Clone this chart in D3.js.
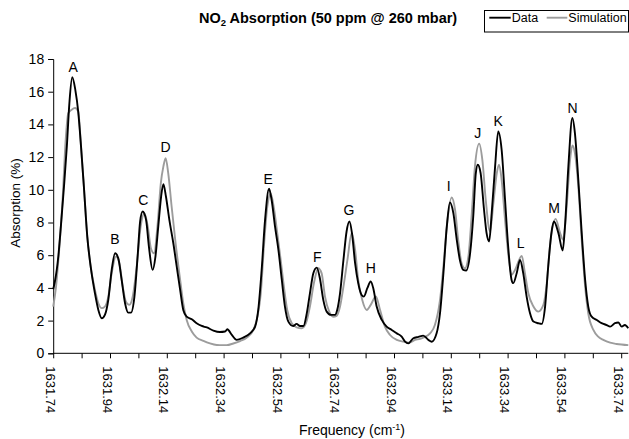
<!DOCTYPE html>
<html>
<head>
<meta charset="utf-8">
<script src="https://cdn.jsdelivr.net/npm/d3@7"></script>
<style>
  body { margin: 0; background: #fff; }
  svg { display: block; font-family: "Liberation Sans", Arial, sans-serif; }
</style>
</head>
<body>
<svg id="chart" width="629" height="439"></svg>
<script>
/* NO2 absorption spectrum: measured data vs simulation */

var dataFreq = [
  1631.740, 1631.746, 1631.758, 1631.767, 1631.778, 1631.788, 1631.797, 1631.807, 1631.818, 1631.828,
  1631.838, 1631.848, 1631.860, 1631.872, 1631.887, 1631.899, 1631.911, 1631.922, 1631.934, 1631.946,
  1631.958, 1631.969, 1631.981, 1631.993, 1632.004, 1632.014, 1632.026, 1632.038, 1632.046, 1632.055,
  1632.067, 1632.077, 1632.090, 1632.100, 1632.110, 1632.120, 1632.128, 1632.137, 1632.149, 1632.163,
  1632.175, 1632.187, 1632.198, 1632.210, 1632.228, 1632.245, 1632.263, 1632.281, 1632.304, 1632.327,
  1632.345, 1632.353, 1632.369, 1632.386, 1632.409, 1632.433, 1632.451, 1632.462, 1632.474, 1632.486,
  1632.500, 1632.509, 1632.521, 1632.533, 1632.545, 1632.556, 1632.568, 1632.585, 1632.597, 1632.609,
  1632.621, 1632.633, 1632.644, 1632.656, 1632.668, 1632.679, 1632.691, 1632.703, 1632.718, 1632.732,
  1632.740, 1632.750, 1632.762, 1632.773, 1632.783, 1632.792, 1632.803, 1632.814, 1632.826, 1632.834,
  1632.846, 1632.858, 1632.867, 1632.879, 1632.897, 1632.914, 1632.932, 1632.950, 1632.967, 1632.979,
  1632.990, 1633.008, 1633.026, 1633.043, 1633.061, 1633.073, 1633.090, 1633.102, 1633.114, 1633.126,
  1633.137, 1633.149, 1633.161, 1633.172, 1633.184, 1633.194, 1633.208, 1633.219, 1633.228, 1633.235,
  1633.245, 1633.257, 1633.266, 1633.275, 1633.284, 1633.296, 1633.307, 1633.319, 1633.331, 1633.342,
  1633.354, 1633.360, 1633.372, 1633.384, 1633.395, 1633.407, 1633.419, 1633.431, 1633.448, 1633.460,
  1633.472, 1633.483, 1633.495, 1633.503, 1633.519, 1633.534, 1633.542, 1633.554, 1633.568, 1633.577,
  1633.589, 1633.601, 1633.613, 1633.624, 1633.636, 1633.654, 1633.671, 1633.689, 1633.701, 1633.718,
  1633.730, 1633.742, 1633.753, 1633.765
];
var dataAbs = [
  3.92, 4.39, 5.92, 7.76, 10.2, 12.65, 15.3, 16.88, 16.1, 14.8,
  12.65, 10.2, 7.14, 5.3, 3.67, 2.65, 2.14, 2.35, 3.27, 5.1,
  6.12, 5.82, 4.49, 3.06, 2.49, 2.49, 3.47, 6.12, 8.06, 8.67,
  8.16, 6.53, 5.1, 5.92, 7.76, 9.59, 10.35, 9.59, 8.16, 6.73,
  5.3, 3.88, 2.65, 2.24, 2.08, 1.84, 1.67, 1.58, 1.39, 1.3,
  1.33, 1.47, 1.12, 0.82, 0.96, 1.22, 1.63, 2.65, 5.1, 8.16,
  10.06, 9.39, 7.76, 6.33, 4.49, 2.86, 1.94, 1.67, 1.8, 1.67,
  1.67, 2.45, 3.67, 4.9, 5.24, 4.59, 3.27, 2.55, 2.35, 2.35,
  2.65, 3.67, 5.71, 7.45, 8.06, 7.35, 5.51, 4.29, 3.57, 3.47,
  3.98, 4.39, 3.98, 2.86, 2.04, 1.63, 1.43, 1.22, 1.02, 0.71,
  0.61, 0.92, 1.0, 1.08, 0.82, 0.71, 1.22, 2.45, 4.9, 7.76,
  9.22, 8.57, 6.94, 5.71, 5.1, 5.06, 6.12, 8.37, 11.0, 11.53,
  11.02, 8.78, 7.35, 6.84, 8.57, 11.43, 13.57, 12.45, 9.39, 6.53,
  4.49, 4.29, 4.9, 5.71, 4.9, 3.47, 2.45, 1.94, 1.84, 1.8,
  2.86, 5.31, 7.45, 8.06, 7.35, 6.29, 7.76, 11.43, 14.39, 13.47,
  10.61, 7.35, 4.49, 2.86, 2.24, 2.04, 1.84, 1.73, 1.63, 1.84,
  1.88, 1.63, 1.73, 1.53
];

var simFreq = [
  1631.740, 1631.750, 1631.761, 1631.773, 1631.784, 1631.793, 1631.805, 1631.817, 1631.828, 1631.838,
  1631.848, 1631.860, 1631.872, 1631.887, 1631.899, 1631.911, 1631.922, 1631.934, 1631.946, 1631.961,
  1631.973, 1631.985, 1631.996, 1632.008, 1632.020, 1632.034, 1632.048, 1632.061, 1632.073, 1632.084,
  1632.095, 1632.107, 1632.119, 1632.128, 1632.136, 1632.145, 1632.157, 1632.171, 1632.187, 1632.198,
  1632.210, 1632.228, 1632.245, 1632.269, 1632.292, 1632.316, 1632.327, 1632.351, 1632.374, 1632.398,
  1632.421, 1632.445, 1632.459, 1632.471, 1632.482, 1632.494, 1632.506, 1632.518, 1632.529, 1632.541,
  1632.553, 1632.564, 1632.580, 1632.597, 1632.615, 1632.630, 1632.644, 1632.658, 1632.673, 1632.685,
  1632.697, 1632.712, 1632.726, 1632.738, 1632.750, 1632.762, 1632.776, 1632.791, 1632.803, 1632.814,
  1632.828, 1632.844, 1632.858, 1632.876, 1632.891, 1632.908, 1632.926, 1632.950, 1632.973, 1632.994,
  1633.014, 1633.032, 1633.043, 1633.067, 1633.084, 1633.102, 1633.114, 1633.126, 1633.143, 1633.155,
  1633.166, 1633.178, 1633.190, 1633.202, 1633.214, 1633.225, 1633.240, 1633.251, 1633.263, 1633.278,
  1633.290, 1633.302, 1633.310, 1633.319, 1633.331, 1633.342, 1633.354, 1633.366, 1633.390, 1633.401,
  1633.413, 1633.431, 1633.448, 1633.466, 1633.478, 1633.489, 1633.509, 1633.525, 1633.536, 1633.548,
  1633.560, 1633.568, 1633.577, 1633.589, 1633.601, 1633.613, 1633.624, 1633.642, 1633.659, 1633.677,
  1633.701, 1633.724, 1633.765
];
var simAbs = [
  2.86, 4.08, 6.33, 9.39, 13.06, 14.69, 14.9, 15.0, 14.8, 12.65,
  10.2, 7.14, 5.3, 3.88, 3.06, 2.76, 2.86, 3.47, 4.9, 5.92,
  5.51, 4.08, 3.16, 2.96, 3.47, 5.31, 7.76, 8.57, 7.76, 6.43,
  6.12, 7.76, 10.41, 11.43, 11.94, 11.02, 8.98, 6.73, 4.49, 3.06,
  2.04, 1.33, 0.96, 0.76, 0.61, 0.51, 0.5, 0.5, 0.6, 0.75,
  0.95, 1.43, 2.24, 3.67, 6.53, 8.98, 9.76, 8.78, 7.35, 5.71,
  3.98, 2.65, 1.84, 1.59, 1.53, 1.84, 2.86, 4.29, 5.2, 4.9,
  3.47, 2.55, 2.24, 2.29, 2.86, 4.08, 5.71, 7.35, 6.33, 4.49,
  3.27, 2.65, 2.96, 3.47, 2.65, 1.63, 1.12, 0.82, 0.71, 0.65,
  0.82, 0.88, 0.96, 1.22, 1.73, 3.27, 5.31, 7.76, 9.53, 8.78,
  6.94, 5.51, 5.2, 5.92, 8.57, 11.43, 12.82, 11.84, 9.39, 7.45,
  9.18, 11.02, 11.53, 10.61, 8.16, 6.12, 4.8, 5.1, 5.96, 4.9,
  3.67, 2.86, 2.55, 2.96, 4.29, 6.53, 8.22, 7.35, 6.94, 8.98,
  11.84, 12.71, 12.24, 10.2, 6.94, 4.08, 2.45, 1.43, 1.02, 0.82,
  0.65, 0.57, 0.5
];

var peakNames = ['A', 'B', 'C', 'D', 'E', 'F', 'G', 'H', 'I', 'J', 'K', 'L', 'M', 'N'];
var peakFreq  = [1631.810, 1631.957, 1632.057, 1632.136, 1632.497, 1632.670, 1632.781,
                 1632.858, 1633.133, 1633.235, 1633.307, 1633.386, 1633.504, 1633.569];
var peakAbs   = [17.53, 6.99, 9.38, 12.60, 10.64, 5.91, 8.76,
                 5.20, 10.25, 13.49, 14.21, 6.73, 8.87, 14.99];

var yTicks = [0, 2, 4, 6, 8, 10, 12, 14, 16, 18];
var xTickLabels = ['1631.74', '1631.94', '1632.14', '1632.34', '1632.54', '1632.74',
                   '1632.94', '1633.14', '1633.34', '1633.54', '1633.74'];

var svg = d3.select('#chart');

var x = d3.scaleLinear().domain([1631.74, 1633.765]).range([53.2, 628.3]);
var y = d3.scaleLinear().domain([0, 18]).range([353.3, 59]);

/* y axis */
var yAxis = svg.append('g')
  .attr('transform', 'translate(' + x(1631.74) + ',0)')
  .call(d3.axisLeft(y).tickValues(yTicks).tickSize(5).tickPadding(4).tickFormat(d3.format('d')));
yAxis.select('.domain').attr('stroke', '#000').attr('stroke-width', 1);
yAxis.selectAll('.tick line').attr('stroke', '#000');
yAxis.selectAll('.tick text')
  .attr('font-size', 14).attr('fill', '#000')
  .attr('font-family', '"Liberation Sans", Arial, sans-serif');

/* x axis: minor ticks every 0.1, labels every 0.2 */
var xTickVals = d3.range(21).map(function (i) { return +(1631.74 + i * 0.1).toFixed(2); });
var xAxis = svg.append('g')
  .attr('transform', 'translate(0,' + y(0) + ')')
  .call(d3.axisBottom(x).tickValues(xTickVals).tickSize(5).tickFormat(''));
xAxis.select('.domain').attr('stroke', '#000').attr('stroke-width', 1)
  .attr('d', 'M' + x(1631.74) + ',0H' + x(1633.765));
xAxis.selectAll('.tick line').attr('stroke', '#000');

svg.append('g').selectAll('text')
  .data(xTickLabels)
  .enter().append('text')
  .attr('transform', function (d) { return 'translate(' + x(+d) + ',' + (y(0) + 13) + ') rotate(90)'; })
  .attr('dy', 7.3)
  .attr('text-anchor', 'start')
  .attr('font-size', 13)
  .text(function (d) { return d; });

/* curves */
var line = d3.line()
  .x(function (d) { return x(d[0]); })
  .y(function (d) { return y(d[1]); })
  .curve(d3.curveMonotoneX);

svg.append('path')
  .datum(d3.zip(simFreq, simAbs))
  .attr('d', line)
  .attr('fill', 'none')
  .attr('stroke', '#9c9c9c')
  .attr('stroke-width', 1.9)
  .attr('stroke-linejoin', 'round');

svg.append('path')
  .datum(d3.zip(dataFreq, dataAbs))
  .attr('d', line)
  .attr('fill', 'none')
  .attr('stroke', '#000')
  .attr('stroke-width', 1.9)
  .attr('stroke-linejoin', 'round');

/* peak letters */
svg.append('g').selectAll('text')
  .data(d3.zip(peakNames, peakFreq, peakAbs))
  .enter().append('text')
  .attr('x', function (d) { return x(d[1]); })
  .attr('y', function (d) { return y(d[2]); })
  .attr('dy', '0.36em')
  .attr('text-anchor', 'middle')
  .attr('font-size', 14)
  .text(function (d) { return d[0]; });

/* axis titles */
svg.append('text')
  .attr('transform', 'translate(15,203) rotate(-90)')
  .attr('dy', '0.35em')
  .attr('text-anchor', 'middle')
  .attr('font-size', 13.5)
  .text('Absorption (%)');

var xt = svg.append('text')
  .attr('x', 352)
  .attr('y', 434.5)
  .attr('text-anchor', 'middle')
  .attr('font-size', 14);
xt.append('tspan').text('Frequency (cm');
xt.append('tspan').attr('dy', -5).attr('font-size', 9).text('-1');
xt.append('tspan').attr('dy', 5).text(')');

/* title */
var tt = svg.append('text')
  .attr('x', 199)
  .attr('y', 22.5)
  .attr('font-size', 14.5)
  .attr('font-weight', 'bold');
tt.append('tspan').text('NO');
tt.append('tspan').attr('dy', 3).attr('font-size', 9.5).text('2');
tt.append('tspan').attr('dy', -3).text(' Absorption (50 ppm @ 260 mbar)');

/* legend */
var lg = svg.append('g').attr('transform', 'translate(484,10)');
lg.append('rect')
  .attr('x', 0.5).attr('y', 0.5).attr('width', 144).attr('height', 21.5)
  .attr('fill', '#fff').attr('stroke', '#000').attr('stroke-width', 1);
lg.append('line').attr('x1', 5.3).attr('x2', 26.7).attr('y1', 7.7).attr('y2', 7.7)
  .attr('stroke', '#000').attr('stroke-width', 1.9);
lg.append('text').attr('x', 27.7).attr('y', 12).attr('font-size', 12.5).text('Data');
lg.append('line').attr('x1', 62.7).attr('x2', 83.3).attr('y1', 7.7).attr('y2', 7.7)
  .attr('stroke', '#9c9c9c').attr('stroke-width', 1.9);
lg.append('text').attr('x', 84.3).attr('y', 12).attr('font-size', 12.5).text('Simulation');
</script>
</body>
</html>
